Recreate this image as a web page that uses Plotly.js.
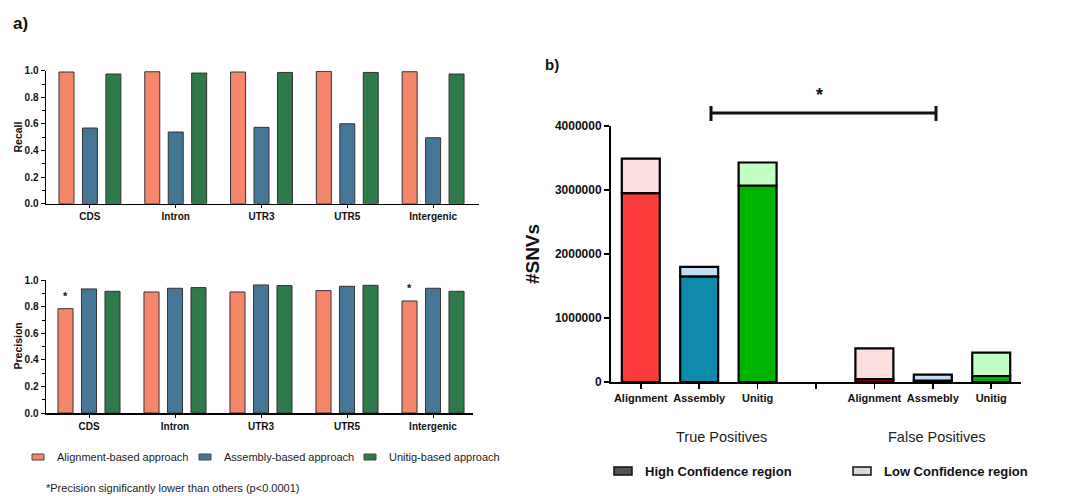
<!DOCTYPE html>
<html>
<head>
<meta charset="utf-8">
<script src="https://cdn.plot.ly/plotly-3.0.1.min.js"></script>
<style>html,body{margin:0;padding:0;background:#fff;}#chart{width:1072px;height:496px;}</style>
</head>
<body>
<div id="chart"></div>
<script>
// ---------- data ----------
const regions = ['CDS', 'Intron', 'UTR3', 'UTR5', 'Intergenic'];
const approaches = ['Alignment-based approach', 'Assembly-based approach', 'Unitig-based approach'];
const recallAlignment = [0.990, 0.992, 0.990, 0.995, 0.992];
const recallAssembly  = [0.569, 0.539, 0.574, 0.601, 0.496];
const recallUnitig    = [0.975, 0.982, 0.987, 0.987, 0.975];
const precisionAlignment = [0.786, 0.912, 0.912, 0.922, 0.844];
const precisionAssembly  = [0.935, 0.940, 0.965, 0.955, 0.940];
const precisionUnitig    = [0.917, 0.945, 0.960, 0.962, 0.917];
const significantRegions = ['CDS', 'Intergenic'];
const metricTitles = ['Recall', 'Precision'];

const snvLabels = ['Alignment', 'Assembly', 'Unitig', 'Alignment', 'Assmebly', 'Unitig'];
const snvTotal = [3490000, 1800000, 3430000, 526000, 115000, 458000];
const snvHigh  = [2950000, 1650000, 3070000, 47000, 20000, 94000];
const groupLabels = ['True Positives', 'False Positives'];
const confidenceLabels = ['High Confidence region', 'Low Confidence region'];

// ---------- styles ----------
const W = 1072, H = 496;
const px = x => x / W, py = y => 1 - y / H;
const FONT = 'Liberation Sans, Arial, sans-serif';
const approachColors = ['#F6866A', '#457698', '#2F7A4A'];
const highColors = ['#FB3A3A', '#0E8BAA', '#00B300', '#8B0000', '#1C2E52', '#00B300'];
const lowColors  = ['#FDDEDE', '#C4DDF5', '#C2FFC2', '#FDDEDE', '#C4DDF5', '#C2FFC2'];

const recallSeries = [recallAlignment, recallAssembly, recallUnitig];
const precisionSeries = [precisionAlignment, precisionAssembly, precisionUnitig];

const traces = [];
recallSeries.forEach((vals, i) => traces.push({
  type: 'bar', x: regions, y: vals, name: approaches[i], xaxis: 'x', yaxis: 'y',
  marker: {color: approachColors[i], line: {color: '#333', width: 1}}, showlegend: false, hoverinfo: 'skip'
}));
precisionSeries.forEach((vals, i) => traces.push({
  type: 'bar', x: regions, y: vals, name: approaches[i], xaxis: 'x2', yaxis: 'y2',
  marker: {color: approachColors[i], line: {color: '#333', width: 1}}, showlegend: false, hoverinfo: 'skip'
}));
const snvPos = snvLabels.map((l, i) => i < 3 ? i : i + 1);
const snvLow = snvTotal.map((t, i) => t - snvHigh[i]);
traces.push({
  type: 'bar', x: snvPos, y: snvHigh, xaxis: 'x3', yaxis: 'y3', width: 0.65, offset: -0.325,
  marker: {color: highColors, line: {color: '#000', width: 2.2}}, showlegend: false, hoverinfo: 'skip'
});
traces.push({
  type: 'bar', x: snvPos, y: snvLow, base: snvHigh, xaxis: 'x3', yaxis: 'y3', width: 0.65, offset: -0.325,
  marker: {color: lowColors, line: {color: '#000', width: 2.2}}, showlegend: false, hoverinfo: 'skip'
});

const boldFont = (s) => ({family: FONT, size: s, color: '#111', weight: 'bold'});
const leftY = (y0, y1, anchor) => ({
  domain: [py(y0), py(y1)], range: [0, 1], dtick: 0.2, tickformat: '.1f', anchor: anchor,
  ticks: 'outside', ticklen: 4, tickwidth: 1, tickcolor: '#000',
  minor: {ticks: 'outside', ticklen: 2.5, dtick: 0.1, tickcolor: '#000', showgrid: false},
  showline: true, linecolor: '#000', linewidth: 1.5, showgrid: false, zeroline: false,
  tickfont: boldFont(10), fixedrange: true
});
const leftX = (x0, x1, r0, r1, anchor) => ({
  domain: [px(x0), px(x1)], range: [r0, r1], type: 'category', anchor: anchor,
  showline: true, linecolor: '#000', linewidth: 1.5, ticks: 'outside', ticklen: 3, tickwidth: 1, tickcolor: '#000',
  showgrid: false, zeroline: false, tickfont: boldFont(10), fixedrange: true
});

const annotations = [];
const shapes = [];
// left axis titles
[[137, metricTitles[0]], [346, metricTitles[1]]].forEach(([y, t]) => annotations.push({
  xref: 'paper', yref: 'paper', x: px(17.5), y: py(y), xanchor: 'center', yanchor: 'middle', textangle: -90,
  text: t, showarrow: false, font: boldFont(10.5)}));
// asterisks on precision
significantRegions.forEach(r => {
  const k = regions.indexOf(r);
  annotations.push({xref: 'x2', yref: 'y2', x: r, y: precisionAlignment[k], xshift: -23.5, yshift: 5,
    yanchor: 'bottom', text: '*', showarrow: false, font: boldFont(11)});
});
// panel labels
annotations.push({xref: 'paper', yref: 'paper', x: px(11), y: py(23), xanchor: 'left', yanchor: 'middle',
  text: 'a)', showarrow: false, font: boldFont(17)});
annotations.push({xref: 'paper', yref: 'paper', x: px(543), y: py(64), xanchor: 'left', yanchor: 'middle',
  text: 'b)', showarrow: false, font: boldFont(15)});
// left legend
const legX = [[32, 44, 55], [199, 211, 222], [364, 376, 387]];
approaches.forEach((a, i) => {
  shapes.push({type: 'rect', xref: 'paper', yref: 'paper', x0: px(legX[i][0]), x1: px(legX[i][1]),
    y0: py(460), y1: py(454), fillcolor: approachColors[i], line: {color: '#444', width: 1}});
  annotations.push({xref: 'paper', yref: 'paper', x: px(legX[i][2]), y: py(457), xanchor: 'left', yanchor: 'middle',
    text: a, showarrow: false, font: {family: FONT, size: 11, color: '#222'}});
});
annotations.push({xref: 'paper', yref: 'paper', x: px(44), y: py(488), xanchor: 'left', yanchor: 'middle',
  text: '*Precision significantly lower than others (p<0.0001)', showarrow: false, font: {family: FONT, size: 11, color: '#222'}});
// right group labels
[[721, groupLabels[0]], [937, groupLabels[1]]].forEach(([x, t]) => annotations.push({
  xref: 'paper', yref: 'paper', x: px(x), y: py(437), xanchor: 'center', yanchor: 'middle',
  text: t, showarrow: false, font: {family: FONT, size: 14.5, color: '#222'}}));
// right legend
const confX = [[614, 632, 643, '#555555'], [853, 871, 882, '#D9D9D9']];
confidenceLabels.forEach((c, i) => {
  shapes.push({type: 'rect', xref: 'paper', yref: 'paper', x0: px(confX[i][0]), x1: px(confX[i][1]),
    y0: py(475), y1: py(467), fillcolor: confX[i][3], line: {color: '#111', width: 1.5}});
  annotations.push({xref: 'paper', yref: 'paper', x: px(confX[i][2]), y: py(471), xanchor: 'left', yanchor: 'middle',
    text: c, showarrow: false, font: boldFont(13)});
});
// significance bracket
shapes.push({type: 'line', xref: 'paper', yref: 'paper', x0: px(711), x1: px(936), y0: py(113), y1: py(113), line: {color: '#111', width: 3}});
shapes.push({type: 'line', xref: 'paper', yref: 'paper', x0: px(711), x1: px(711), y0: py(106), y1: py(121), line: {color: '#111', width: 3}});
shapes.push({type: 'line', xref: 'paper', yref: 'paper', x0: px(936), x1: px(936), y0: py(106), y1: py(121), line: {color: '#111', width: 3}});
annotations.push({xref: 'paper', yref: 'paper', x: px(819), y: py(95), xanchor: 'center', yanchor: 'middle',
  text: '*', showarrow: false, font: boldFont(18)});

const layout = {
  width: W, height: H, margin: {l: 0, r: 0, t: 0, b: 0},
  paper_bgcolor: '#fff', plot_bgcolor: 'rgba(0,0,0,0)',
  barmode: 'group', bargap: 0.18, bargroupgap: 0.36, showlegend: false,
  font: {family: FONT, color: '#111'},
  xaxis: leftX(46, 479, -0.512, 4.535, 'y'),
  yaxis: leftY(203.7, 70.7, 'x'),
  xaxis2: leftX(46, 473, -0.5, 4.465, 'y2'),
  yaxis2: leftY(413, 280.3, 'x2'),
  xaxis3: {
    domain: [px(611), px(1021)], range: [-0.51, 6.51], anchor: 'y3',
    tickvals: [0, 1, 2, 3, 4, 5, 6], ticktext: [snvLabels[0], snvLabels[1], snvLabels[2], '', snvLabels[3], snvLabels[4], snvLabels[5]],
    ticks: 'outside', ticklen: 5, tickwidth: 1.5, tickcolor: '#000',
    showline: true, linecolor: '#000', linewidth: 2, showgrid: false, zeroline: false,
    tickfont: boldFont(11), fixedrange: true
  },
  yaxis3: {
    domain: [py(382), py(126)], range: [0, 4000000], dtick: 1000000, tickformat: 'd', anchor: 'x3',
    ticks: 'outside', ticklen: 5, tickwidth: 1.5, tickcolor: '#000',
    showline: true, linecolor: '#000', linewidth: 2, showgrid: false, zeroline: false,
    tickfont: boldFont(12), title: {text: '#SNVs', font: boldFont(19), standoff: 10}, fixedrange: true
  },
  annotations: annotations, shapes: shapes
};

Plotly.newPlot('chart', traces, layout, {displayModeBar: false, staticPlot: true});
</script>
</body>
</html>
